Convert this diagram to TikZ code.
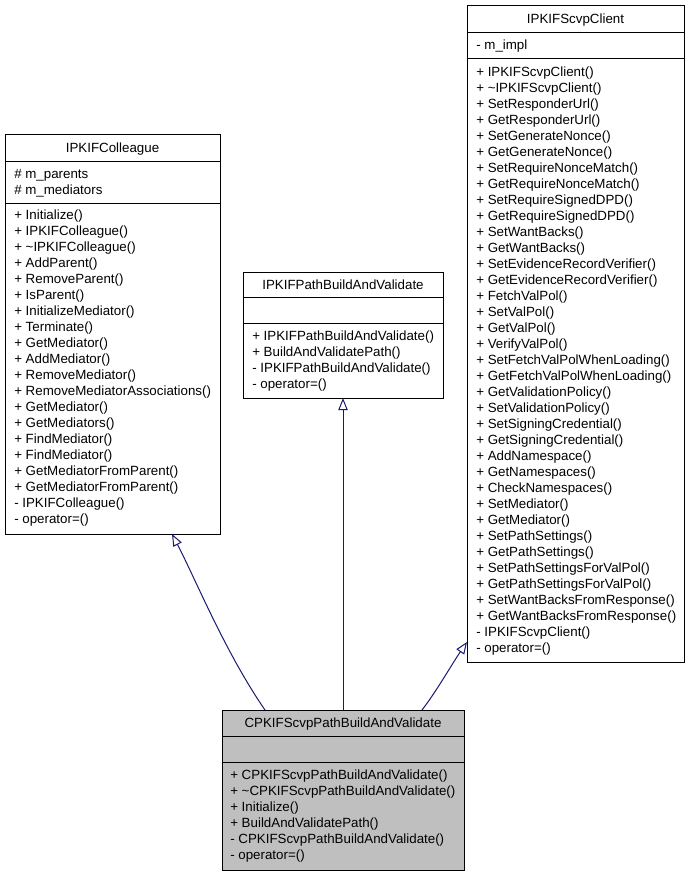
\documentclass[tikz,border=0pt]{standalone}
\usepackage{fontspec}
\setmainfont{Liberation Sans}
\usetikzlibrary{arrows.meta}
\definecolor{edgeblue}{RGB}{25,25,112}
\definecolor{hlgray}{RGB}{191,191,191}
\begin{document}
\begin{tikzpicture}[x=0.75pt,y=-0.75pt,
  cls/.style={draw=black,line width=0.75pt,fill=white,inner sep=0pt,outer sep=0pt},
  title/.style={inner sep=0pt,yshift=-1.1pt,font=\fontsize{10}{12}\selectfont,text height=7.2pt,text depth=2pt},
  mtxt/.style={anchor=west,inner sep=0pt,yshift=-1.1pt,font=\fontsize{10}{12}\selectfont,text height=7.2pt,text depth=2pt},
  sep/.style={draw=black,line width=0.75pt},
  inh/.style={draw=edgeblue,line width=0.75pt,-{Triangle[open,length=9pt,width=7pt]}}]
\useasboundingbox (0,0) rectangle (688,875);

% ---------- IPKIFColleague ----------
\node[cls,minimum width=161.25pt,minimum height=300pt] (colleague) at (112.5,334) {};
\draw[sep] (5,161) -- (220,161);
\draw[sep] (5,203) -- (220,203);
\node[title] (colt) at (112.5,147.5) {IPKIFColleague};
\node[mtxt] (cola1) at (14,174) {\# m\_parents};
\node[mtxt] (cola2) at (14,190) {\# m\_mediators};
\foreach \t [count=\i] in {{+ Initialize()},{+ IPKIFColleague()},{+ \textasciitilde IPKIFColleague()},{+ AddParent()},{+ RemoveParent()},{+ IsParent()},{+ InitializeMediator()},{+ Terminate()},{+ GetMediator()},{+ AddMediator()},{+ RemoveMediator()},{+ RemoveMediatorAssociations()},{+ GetMediator()},{+ GetMediators()},{+ FindMediator()},{+ FindMediator()},{+ GetMediatorFromParent()},{+ GetMediatorFromParent()},{- IPKIFColleague()},{- operator=()}}
  \node[mtxt] (colm\i) at (14,{215+16*(\i-1)}) {\t};

% ---------- IPKIFPathBuildAndValidate ----------
\node[cls,minimum width=150pt,minimum height=94.5pt] (pbv) at (343,335) {};
\draw[sep] (243,297) -- (443,297);
\draw[sep] (243,323) -- (443,323);
\node[title] (pbvt) at (343,284.5) {IPKIFPathBuildAndValidate};
\foreach \t [count=\i] in {{+ IPKIFPathBuildAndValidate()},{+ BuildAndValidatePath()},{- IPKIFPathBuildAndValidate()},{- operator=()}}
  \node[mtxt] (pbvm\i) at (252,{336+16*(\i-1)}) {\t};

% ---------- IPKIFScvpClient ----------
\node[cls,minimum width=162.75pt,minimum height=492.75pt] (scvp) at (575.5,333.5) {};
\draw[sep] (467,32) -- (684,32);
\draw[sep] (467,58) -- (684,58);
\node[title] (scvpt) at (575.5,18.5) {IPKIFScvpClient};
\node[mtxt] (scvpa1) at (476,45) {- m\_impl};
\foreach \t [count=\i] in {{+ IPKIFScvpClient()},{+ \textasciitilde IPKIFScvpClient()},{+ SetResponderUrl()},{+ GetResponderUrl()},{+ SetGenerateNonce()},{+ GetGenerateNonce()},{+ SetRequireNonceMatch()},{+ GetRequireNonceMatch()},{+ SetRequireSignedDPD()},{+ GetRequireSignedDPD()},{+ SetWantBacks()},{+ GetWantBacks()},{+ SetEvidenceRecordVerifier()},{+ GetEvidenceRecordVerifier()},{+ FetchValPol()},{+ SetValPol()},{+ GetValPol()},{+ VerifyValPol()},{+ SetFetchValPolWhenLoading()},{+ GetFetchValPolWhenLoading()},{+ GetValidationPolicy()},{+ SetValidationPolicy()},{+ SetSigningCredential()},{+ GetSigningCredential()},{+ AddNamespace()},{+ GetNamespaces()},{+ CheckNamespaces()},{+ SetMediator()},{+ GetMediator()},{+ SetPathSettings()},{+ GetPathSettings()},{+ SetPathSettingsForValPol()},{+ GetPathSettingsForValPol()},{+ SetWantBacksFromResponse()},{+ GetWantBacksFromResponse()},{- IPKIFScvpClient()},{- operator=()}}
  \node[mtxt] (scvpm\i) at (476,{71.5+16*(\i-1)}) {\t};

% ---------- CPKIFScvpPathBuildAndValidate ----------
\node[cls,fill=hlgray,minimum width=181.5pt,minimum height=120pt] (cpkif) at (343,790) {};
\draw[sep] (222,736) -- (464,736);
\draw[sep] (222,762) -- (464,762);
\node[title] (cpkift) at (343,723) {CPKIFScvpPathBuildAndValidate};
\foreach \t [count=\i] in {{+ CPKIFScvpPathBuildAndValidate()},{+ \textasciitilde CPKIFScvpPathBuildAndValidate()},{+ Initialize()},{+ BuildAndValidatePath()},{- CPKIFScvpPathBuildAndValidate()},{- operator=()}}
  \node[mtxt] (cpkifm\i) at (230,{775+16*(\i-1)}) {\t};

% ---------- inheritance connectors ----------
\coordinate (cL) at (265,710);
\coordinate (colTip) at (172,534);
\coordinate (cR) at (422,710);
\coordinate (scvTip) at (467,642);
\draw[inh] (cL) .. controls (225,652) and (195,578) .. (colTip);
\draw[inh] (cpkif.north) -- (pbv.south);
\draw[inh] (cR) .. controls (436,692) and (452,664) .. (scvTip);
\end{tikzpicture}
\end{document}
